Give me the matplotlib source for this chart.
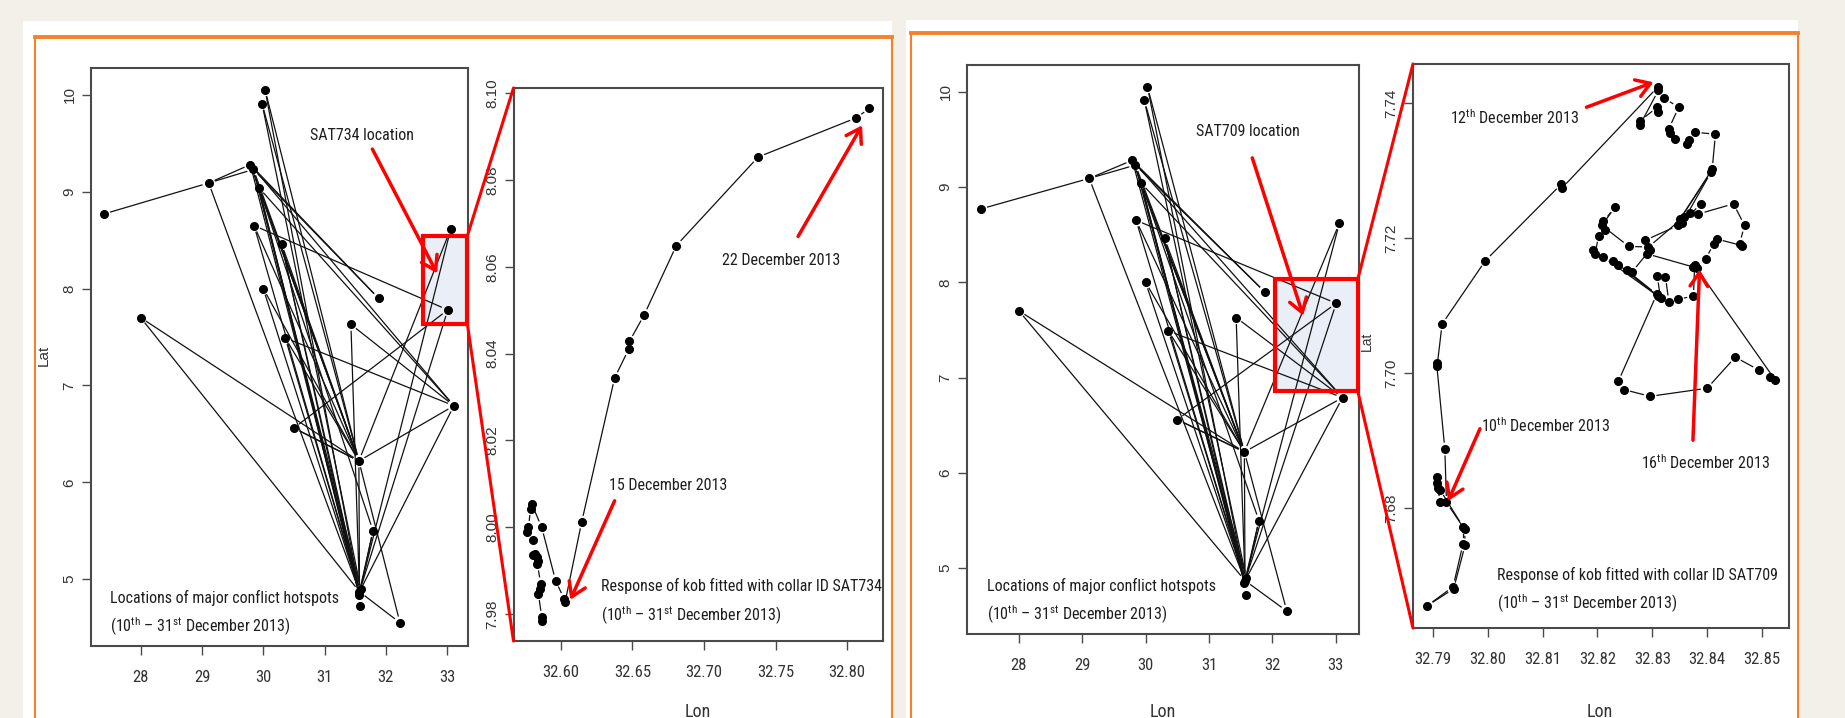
import numpy as np
import matplotlib
matplotlib.use("Agg")
import matplotlib.pyplot as plt
from matplotlib.patches import Rectangle, ConnectionPatch
from matplotlib.lines import Line2D
from matplotlib import font_manager as fm


def pick_font(names):
    for n in names:
        try:
            fm.findfont(fm.FontProperties(family=n), fallback_to_default=False)
            return n
        except Exception:
            pass
    return "DejaVu Sans"


NARROW = pick_font(["Liberation Sans Narrow", "Roboto Condensed", "Open Sans Condensed", "Liberation Sans"])
SANS = pick_font(["Liberation Sans", "DejaVu Sans"])
plt.rcParams["mathtext.fontset"] = "custom"
plt.rcParams["mathtext.rm"] = NARROW
plt.rcParams["mathtext.default"] = "regular"

# ---- hotspot map (same for both panels) ----
map_lon = [27.40, 29.11, 29.79, 29.84, 29.93, 30.03, 29.98, 29.85, 30.30, 30.00, 31.88, 33.06,
           33.01, 28.00, 31.43, 30.36, 33.11, 30.50, 31.56, 31.79, 31.57, 31.58, 32.23, 31.56, 31.59]
map_lat = [8.77, 9.09, 9.28, 9.23, 9.04, 10.05, 9.91, 8.65, 8.46, 8.00, 7.90, 8.62,
           7.78, 7.70, 7.63, 7.49, 6.79, 6.56, 6.22, 5.50, 4.87, 4.72, 4.55, 4.84, 4.90]
seg_from = [0, 1, 1, 1, 2, 3, 2, 4, 7,
            2, 3, 4, 4, 3, 2, 3, 4, 7, 7, 8, 8, 9, 9, 5, 5, 6, 6, 15, 15, 4, 8,
            13, 13, 15, 14, 14, 17, 17, 17, 18, 18, 20, 20, 18, 20, 20, 18, 19, 20, 20]
seg_to = [1, 2, 3, 20, 10, 10, 16, 16, 12,
          20, 20, 20, 23, 24, 18, 18, 18, 20, 18, 20, 18, 20, 18, 20, 18, 24, 18, 20, 18, 19, 23,
          18, 20, 16, 16, 20, 12, 18, 18, 16, 11, 11, 16, 22, 22, 19, 20, 24, 21, 12]
map_xticks = [28, 29, 30, 31, 32, 33]
map_yticks = [5, 6, 7, 8, 9, 10]

# ---- SAT734 track ----
sat734_lon = [32.5872, 32.5867, 32.5844, 32.5855, 32.5860, 32.5837, 32.5844, 32.5837, 32.5809, 32.5821,
              32.5809, 32.5767, 32.5774, 32.5790, 32.5797, 32.5867, 32.5964, 32.6023, 32.6030, 32.6146,
              32.6376, 32.6474, 32.6479, 32.6582, 32.6807, 32.7378, 32.8062, 32.8155]
sat734_lat = [7.9785, 7.9793, 7.9847, 7.9858, 7.9870, 7.9915, 7.9923, 7.9931, 7.9935, 7.9939,
              7.9970, 7.9989, 8.0000, 8.0043, 8.0054, 8.0000, 7.9877, 7.9835, 7.9827, 8.0012,
              8.0344, 8.0410, 8.0428, 8.0489, 8.0649, 8.0853, 8.0943, 8.0965]
sat734_xticks = [32.60, 32.65, 32.70, 32.75, 32.80]
sat734_yticks = [7.98, 8.00, 8.02, 8.04, 8.06, 8.08, 8.10]

# ---- SAT709 track ----
sat709_lon = [32.7913, 32.7907, 32.7908, 32.7910, 32.7913, 32.7955, 32.7955, 32.7937, 32.7890, 32.7938,
              32.7959, 32.7958, 32.7925, 32.7922, 32.7907, 32.7908, 32.7917, 32.7996, 32.8134, 32.8135,
              32.8310, 32.8311, 32.8277, 32.8278, 32.8309, 32.8311, 32.8322, 32.8348, 32.8330, 32.8333,
              32.8342, 32.8363, 32.8366, 32.8378, 32.8415, 32.8409, 32.8351, 32.8407, 32.8354, 32.8388,
              32.8369, 32.8384, 32.8448, 32.8468, 32.8459, 32.8464, 32.8417, 32.8412, 32.8397, 32.8375,
              32.8381, 32.8290, 32.8287, 32.8347, 32.8358, 32.8293, 32.8257, 32.8208, 32.8232, 32.8211,
              32.8214, 32.8202, 32.8196, 32.8192, 32.8211, 32.8311, 32.8229, 32.8238, 32.8315, 32.8309,
              32.8324, 32.8330, 32.8346, 32.8375, 32.8377, 32.8524, 32.8515, 32.8494, 32.8451, 32.8400,
              32.8296, 32.8248, 32.8238, 32.8308, 32.8253, 32.8263, 32.8296]
sat709_lat = [7.6809, 7.6847, 7.6838, 7.6830, 7.6828, 7.6773, 7.6747, 7.6684, 7.6656, 7.6681,
              7.6746, 7.6769, 7.6809, 7.6888, 7.7015, 7.7011, 7.7073, 7.7167, 7.7280, 7.7274,
              7.7424, 7.7419, 7.7367, 7.7374, 7.7394, 7.7387, 7.7407, 7.7394, 7.7362, 7.7356,
              7.7347, 7.7340, 7.7345, 7.7357, 7.7354, 7.7302, 7.7229, 7.7298, 7.7222, 7.7251,
              7.7237, 7.7236, 7.7251, 7.7219, 7.7192, 7.7189, 7.7199, 7.7192, 7.7169, 7.7157,
              7.7156, 7.7177, 7.7197, 7.7219, 7.7232, 7.7187, 7.7188, 7.7219, 7.7246, 7.7225,
              7.7212, 7.7204, 7.7177, 7.7183, 7.7172, 7.7114, 7.7167, 7.7161, 7.7111, 7.7144,
              7.7143, 7.7106, 7.7110, 7.7114, 7.7160, 7.6990, 7.6995, 7.7005, 7.7024, 7.6978,
              7.6966, 7.6976, 7.6988, 7.7117, 7.7153, 7.7150, 7.7183]
sat709_xticks = [32.79, 32.80, 32.81, 32.82, 32.83, 32.84, 32.85]
sat709_yticks = [7.68, 7.70, 7.72, 7.74]

W, H = 1845, 718
BEIGE = "#f3f0e9"
ORANGE = "#f5822a"
RED = "#ff0000"
FRAME = "#4a4a4a"
TXT = "#1e1e1e"
NOTE_SIZE = 11.5

fig = plt.figure(figsize=(W / 100, H / 100), dpi=100, facecolor=BEIGE)


def fx(px):
    return px / W


def fy(py):
    return 1 - py / H


def box(l, t, r, b):
    return [fx(l), fy(b), (r - l) / W, (b - t) / H]


# white panels with orange frames
for (l, t, r), (ol, ot) in [((23, 21, 892), (35, 37)), ((906, 20, 1798), (911, 33))]:
    fig.add_artist(Rectangle((fx(l), 0), (r - l) / W, 1 - t / H, transform=fig.transFigure,
                             fc="white", ec="none", zorder=-5))
    fig.add_artist(Line2D([fx(ol), fx(r)], [fy(ot), fy(ot)], transform=fig.transFigure,
                          color=ORANGE, lw=2.8, zorder=-4))
    for xv in (ol, r):
        fig.add_artist(Line2D([fx(xv), fx(xv)], [0, fy(ot)], transform=fig.transFigure,
                              color=ORANGE, lw=1.5, zorder=-4))


def gapped(ax, xs, ys, gap=7.0):
    # R type="b": lines stop short of the points
    pts = ax.transData.transform(np.column_stack([xs, ys]))
    inv = ax.transData.inverted()
    for p, q in zip(pts[:-1], pts[1:]):
        d = np.hypot(*(q - p))
        if d <= 2 * gap + 1:
            continue
        u = (q - p) / d
        a, b = inv.transform(np.vstack([p + u * gap, q - u * gap]))
        ax.plot([a[0], b[0]], [a[1], b[1]], color="#111111", lw=0.9, zorder=2)


def style_axes(ax, xticks, yticks, xfmt, yfmt):
    for s in ax.spines.values():
        s.set_color(FRAME)
        s.set_linewidth(1.5)
    ax.set_xticks(xticks)
    ax.set_yticks(yticks)
    ax.set_xticklabels([xfmt.format(v) for v in xticks], fontfamily=NARROW, fontsize=12, color="#333333")
    ax.set_yticklabels([yfmt.format(v) for v in yticks], fontfamily=SANS, fontsize=11, color="#333333",
                       rotation=90, va="center")
    ax.tick_params(axis="both", direction="out", length=6.5, width=1, color=FRAME)
    ax.tick_params(axis="x", pad=11)
    ax.tick_params(axis="y", pad=4)


def red_arrow(ax, start, end):
    ax.annotate("", xy=end, xytext=start,
                arrowprops=dict(arrowstyle="->,head_length=0.7,head_width=0.45", color=RED, lw=2.5,
                                shrinkA=0, shrinkB=0, mutation_scale=14), zorder=5)


def date_range(ax, x, y):
    ax.text(x, y, r"(10$^{\mathrm{th}}$ – 31$^{\mathrm{st}}$ December 2013)", ha="left",
            va="center", fontsize=NOTE_SIZE, fontfamily=NARROW, color=TXT)


def draw_map(box_px, xlim, ylim, rect, loc_text, loc_xy, arrow):
    ax = fig.add_axes(box(*box_px))
    ax.set_xlim(*xlim)
    ax.set_ylim(*ylim)
    style_axes(ax, map_xticks, map_yticks, "{:d}", "{:d}")
    for i, j in zip(seg_from, seg_to):
        gapped(ax, [map_lon[i], map_lon[j]], [map_lat[i], map_lat[j]])
    ax.plot(map_lon, map_lat, "o", color="black", ms=5.5, zorder=3)
    (x0, x1), (y0, y1) = rect
    ax.add_patch(Rectangle((x0, y0), x1 - x0, y1 - y0, fc="#e7edf6", ec="none", alpha=0.85, zorder=1))
    ax.add_patch(Rectangle((x0, y0), x1 - x0, y1 - y0, fc="none", ec=RED, lw=3, zorder=4,
                           clip_on=False))
    ax.text(loc_xy[0], loc_xy[1], loc_text, ha="center", va="center", fontsize=NOTE_SIZE,
            fontfamily=NARROW, color=TXT)
    red_arrow(ax, *arrow)
    ax.text(27.50, 4.81, "Locations of major conflict hotspots", ha="left", va="center",
            fontsize=NOTE_SIZE, fontfamily=NARROW, color=TXT)
    date_range(ax, 27.50, 4.51)
    return ax


def draw_track(box_px, xlim, ylim, lon, lat, xticks, yticks, notes, arrows, resp_text, resp_xy):
    ax = fig.add_axes(box(*box_px))
    ax.set_xlim(*xlim)
    ax.set_ylim(*ylim)
    style_axes(ax, xticks, yticks, "{:.2f}", "{:.2f}")
    gapped(ax, lon, lat)
    ax.plot(lon, lat, "o", color="black", ms=5.5, zorder=3)
    for txt, xy, ha in notes:
        ax.text(xy[0], xy[1], txt, ha=ha, va="center", fontsize=NOTE_SIZE, fontfamily=NARROW, color=TXT)
    for a, b in arrows:
        red_arrow(ax, a, b)
    ax.text(resp_xy[0], resp_xy[1], resp_text, ha="left", va="center", fontsize=NOTE_SIZE,
            fontfamily=NARROW, color=TXT)
    date_range(ax, resp_xy[0], resp_xy[2])
    return ax


def connect(map_ax, track_ax, rect):
    (x0, x1), (y0, y1) = rect
    for ya, yb in [(y1, 1.0), (y0, 0.0)]:
        con = ConnectionPatch(xyA=(x1, ya), coordsA=map_ax.transData, xyB=(0.0, yb),
                              coordsB=track_ax.transAxes, color=RED, lw=2.2, zorder=10)
        fig.add_artist(con)


# ---- panel 1 : SAT734 ----
rect1 = ((32.61, 33.33), (7.633, 8.545))
m1 = draw_map((91, 68, 468, 646), (27.19, 33.34), (4.31, 10.277), rect1,
              "SAT734 location", (31.61, 9.585), ((31.78, 9.44), (32.835, 8.157)))
t1 = draw_track((513.5, 88, 883, 641), (32.567, 32.825), (7.9738, 8.1012), sat734_lon, sat734_lat,
                sat734_xticks, sat734_yticks,
                [("22 December 2013", (32.7538, 8.0615), "center"),
                 ("15 December 2013", (32.6335, 8.0096), "left")],
                [((32.7657, 8.0670), (32.8104, 8.0926)), ((32.6376, 8.0061), (32.6067, 7.9833))],
                "Response of kob fitted with collar ID SAT734", (32.6284, 7.9864, 7.9797))
connect(m1, t1, rect1)

# ---- panel 2 : SAT709 ----
rect2 = ((32.04, 33.35), (6.86, 8.03))
m2 = draw_map((967, 65, 1359, 634), (27.18, 33.37), (4.31, 10.28), rect2,
              "SAT709 location", (31.62, 9.578), ((31.685, 9.305), (32.489, 7.65)))
t2 = draw_track((1413, 64, 1789, 628), (32.7864, 32.8549), (7.6623, 7.7458), sat709_lon, sat709_lat,
                sat709_xticks, sat709_yticks,
                [(r"12$^{\mathrm{th}}$ December 2013", (32.7932, 7.7379), "left"),
                 (r"10$^{\mathrm{th}}$ December 2013", (32.7988, 7.6922), "left"),
                 (r"16$^{\mathrm{th}}$ December 2013", (32.8279, 7.6868), "left")],
                [((32.8180, 7.7394), (32.8302, 7.7431)), ((32.7986, 7.6918), (32.7928, 7.6811)),
                 ((32.8374, 7.6901), (32.8386, 7.7154))],
                "Response of kob fitted with collar ID SAT709", (32.8017, 7.6702, 7.6659))
connect(m2, t2, rect2)

# axis titles (partly cut by the bottom edge, as in the source)
fig.text(fx(44), fy(355), "Lat", rotation=90, ha="center", va="center", fontsize=11,
         fontfamily=SANS, color="#333333")
fig.text(fx(1367), fy(341), "Lat", rotation=90, ha="center", va="center", fontsize=10,
         fontfamily=SANS, color="#333333")
for xp in (698, 1163, 1600):
    fig.text(fx(xp), fy(703), "Lon", ha="center", va="top", fontsize=13, fontfamily=NARROW,
             color="#333333")

fig.savefig("out.png", dpi=100, facecolor=BEIGE)
